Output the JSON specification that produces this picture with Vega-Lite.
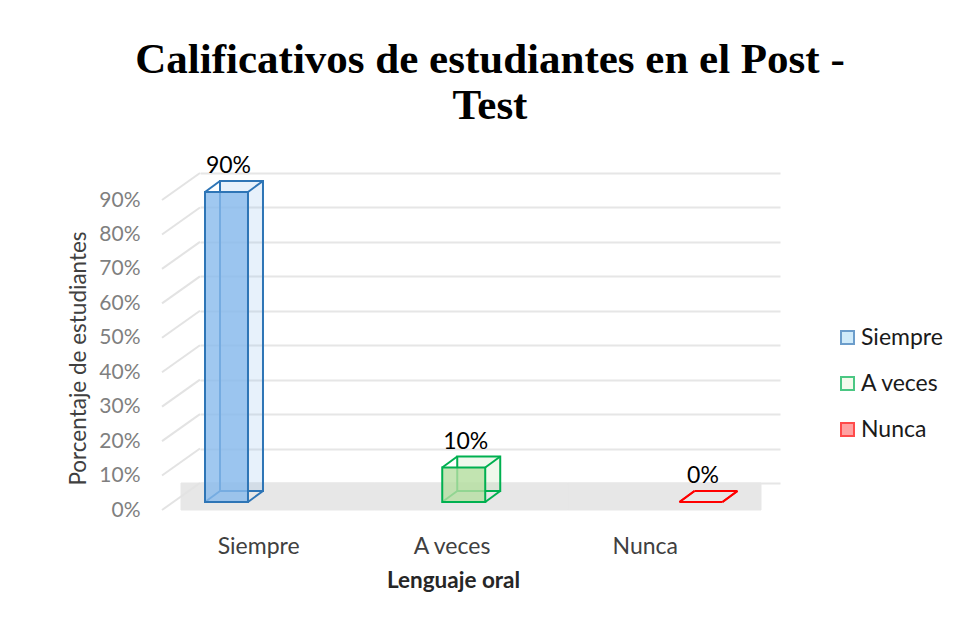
{
  "$schema": "https://vega.github.io/schema/vega-lite/v6.json",
  "autosize": {"type": "none"},
  "width": 580,
  "height": 310,
  "padding": {"left": 200, "top": 173, "right": 176, "bottom": 139},
  "background": "white",
  "config": {
    "font": "Lato",
    "view": {"stroke": null},
    "axisY": {
      "tickCount": 10,
      "format": ".0%",
      "grid": true,
      "gridColor": "#E6E6E6",
      "gridWidth": 2,
      "ticks": false,
      "domain": false,
      "labelOffset": 27,
      "labelPadding": 60,
      "labelFontSize": 21,
      "labelColor": "#7F7F7F",
      "titleFontSize": 22.5,
      "titleFontWeight": "normal",
      "titleColor": "#404040",
      "titlePadding": 8,
      "titleY": 185
    }
  },
  "title": {
    "text": ["Calificativos de estudiantes en el Post -", "Test"],
    "font": "Liberation Serif",
    "fontSize": 43,
    "fontWeight": "bold",
    "color": "#000000",
    "anchor": "middle",
    "lineHeight": 46,
    "offset": 27
  },
  "datasets": {
    "bars": [
      {"cat": "Siempre", "v": 0.9},
      {"cat": "A veces", "v": 0.1},
      {"cat": "Nunca", "v": 0.0}
    ],
    "ticks": [
      {"t": 0.0}, {"t": 0.1}, {"t": 0.2}, {"t": 0.3}, {"t": 0.4},
      {"t": 0.5}, {"t": 0.6}, {"t": 0.7}, {"t": 0.8}, {"t": 0.9}
    ]
  },
  "resolve": {"scale": {"x": "independent"}},
  "layer": [
    {
      "encoding": {
        "x": {
          "field": "cat",
          "type": "nominal",
          "sort": ["Siempre", "A veces", "Nunca"],
          "scale": {"domain": ["Siempre", "A veces", "Nunca"], "paddingInner": 0, "paddingOuter": 0},
          "axis": {
            "title": "Lenguaje oral",
            "labelAngle": 0,
            "labelOffset": -38,
            "labelPadding": 52,
            "labelFontSize": 23,
            "labelColor": "#404040",
            "ticks": false,
            "domain": false,
            "grid": false,
            "titleFontSize": 22.5,
            "titleFontWeight": "bold",
            "titleColor": "#262626",
            "titlePadding": 11,
            "titleX": 253
          }
        }
      },
      "layer": [
        {
          "data": {"name": "bars"},
          "mark": {"type": "rect", "color": "#E7E7E7", "stroke": "#E7E7E7", "strokeWidth": 1, "xOffset": -19, "x2Offset": -8, "y2Offset": 27},
          "encoding": {
            "y": {"datum": 0, "type": "quantitative", "title": "Porcentaje de estudiantes"},
            "y2": {"datum": 0}
          }
        },
        {
          "data": {"name": "ticks"},
          "mark": {"type": "rule", "color": "#E3E3E3", "strokeWidth": 2, "xOffset": -38, "yOffset": 27},
          "encoding": {
            "x": {"value": 0},
            "x2": {"value": 0},
            "y": {
              "field": "t",
              "type": "quantitative",
              "title": "Porcentaje de estudiantes",
              "scale": {"domain": [0, 0.9], "nice": false, "zero": true},
              "axis": {
                "values": [0, 0.1, 0.2, 0.3, 0.4, 0.5, 0.6, 0.7, 0.8, 0.9],
                "tickCount": 10
              }
            },
            "y2": {"field": "t"}
          }
        },
        {
          "data": {"name": "bars"},
          "transform": [{"filter": "false"}],
          "mark": {"type": "square"},
          "encoding": {
            "color": {
              "field": "cat",
              "type": "nominal",
              "scale": {"domain": ["Siempre", "A veces", "Nunca"], "range": ["#BDE3F8", "#F2F8E4", "#FF7C7C"]},
              "legend": {
                "title": null,
                "orient": "none",
                "legendX": 636,
                "legendY": 153,
                "symbolType": "square",
                "symbolSize": 169,
                "symbolStrokeWidth": 2,
                "labelFontSize": 23,
                "labelColor": "#1A1A1A",
                "labelOffset": 2,
                "rowPadding": 22,
                "encode": {
                  "symbols": {
                    "update": {
                      "stroke": {"signal": "datum.value === 'Siempre' ? '#9CC8F0' : datum.value === 'A veces' ? '#7FE3AE' : '#FF7070'"},
                      "strokeWidth": {"value": 2},
                      "fillOpacity": {"value": 1}
                    }
                  }
                }
              }
            }
          }
        }
      ]
    },
    {
      "data": {"name": "bars"},
      "encoding": {
        "x": {
          "field": "cat",
          "type": "nominal",
          "sort": ["Siempre", "A veces", "Nunca"],
          "scale": {"domain": ["Siempre", "A veces", "Nunca"], "paddingInner": 0.8188, "paddingOuter": 0.1318, "align": 0.08},
          "axis": null
        },
        "fill": {
          "field": "cat",
          "type": "nominal",
          "scale": {"domain": ["Siempre", "A veces", "Nunca"], "range": ["#88BAEC", "#B6DEA2", "#F2B8B8"]},
          "legend": null
        },
        "stroke": {
          "field": "cat",
          "type": "nominal",
          "scale": {"domain": ["Siempre", "A veces", "Nunca"], "range": ["#2E75B6", "#00B050", "#FF0000"]},
          "legend": null
        }
      },
      "layer": [
        {
          "mark": {"type": "rect", "fillOpacity": 0.2, "strokeWidth": 2, "xOffset": 15, "x2Offset": 15, "yOffset": 8, "y2Offset": 8},
          "encoding": {
            "y": {"field": "v", "type": "quantitative", "title": "Porcentaje de estudiantes"},
            "y2": {"datum": 0}
          }
        },
        {
          "mark": {"type": "rule", "strokeWidth": 2, "xOffset": -21.5, "x2Offset": -6.5, "yOffset": 19, "y2Offset": 8},
          "encoding": {
            "x2": {"field": "cat"},
            "y": {"field": "v", "type": "quantitative", "title": "Porcentaje de estudiantes"},
            "y2": {"field": "v"}
          }
        },
        {
          "mark": {"type": "rule", "strokeWidth": 2, "xOffset": 21.5, "x2Offset": 36.5, "yOffset": 19, "y2Offset": 8},
          "encoding": {
            "x2": {"field": "cat"},
            "y": {"field": "v", "type": "quantitative", "title": "Porcentaje de estudiantes"},
            "y2": {"field": "v"}
          }
        },
        {
          "mark": {"type": "rule", "strokeWidth": 2, "xOffset": 21.5, "x2Offset": 36.5, "yOffset": 19, "y2Offset": 8},
          "encoding": {
            "x2": {"field": "cat"},
            "y": {"datum": 0, "type": "quantitative", "title": "Porcentaje de estudiantes"},
            "y2": {"datum": 0}
          }
        },
        {
          "mark": {"type": "rule", "strokeWidth": 2, "xOffset": -21.5, "x2Offset": -6.5, "yOffset": 19, "y2Offset": 8},
          "encoding": {
            "x2": {"field": "cat"},
            "y": {"datum": 0, "type": "quantitative", "title": "Porcentaje de estudiantes"},
            "y2": {"datum": 0}
          }
        },
        {
          "mark": {"type": "rect", "fillOpacity": 0.8, "strokeWidth": 2, "yOffset": 19, "y2Offset": 19},
          "encoding": {
            "y": {"field": "v", "type": "quantitative", "title": "Porcentaje de estudiantes"},
            "y2": {"datum": 0}
          }
        },
        {
          "mark": {"type": "text", "fontSize": 23, "color": "#000000", "baseline": "middle", "yOffset": -7, "xOffset": 2, "strokeWidth": 0},
          "encoding": {
            "y": {"field": "v", "type": "quantitative", "title": "Porcentaje de estudiantes"},
            "text": {"field": "v", "type": "quantitative", "format": ".0%"},
            "fill": {"value": "#000000"},
            "stroke": {"value": null}
          }
        }
      ]
    }
  ]
}
